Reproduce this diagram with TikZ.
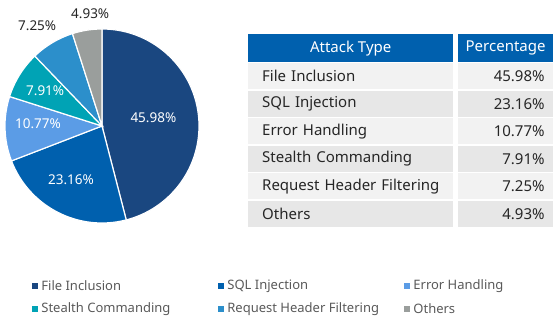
\documentclass[tikz,border=0pt]{standalone}
\usepackage{fontspec}
\setmainfont{Noto Sans}
\usetikzlibrary{positioning, calc}
\definecolor{fileinc}{HTML}{1A4780}
\definecolor{sqlinj}{HTML}{0060AE}
\definecolor{errhand}{HTML}{5B9CE6}
\definecolor{stealth}{HTML}{00A3B5}
\definecolor{reqhead}{HTML}{2C8FCB}
\definecolor{others}{HTML}{9A9E9C}
\definecolor{headblue}{HTML}{0060AE}
\definecolor{rowA}{HTML}{F2F2F2}
\definecolor{rowB}{HTML}{E7E7E7}
\definecolor{txtdark}{HTML}{262626}
\definecolor{txtgray}{HTML}{595959}

\begin{document}
\begin{tikzpicture}[
x=1pt, y=1pt,
slicelabel/.style={text=white, font=\fontsize{13.5}{16}\selectfont},
outlabel/.style={text=txtdark, font=\fontsize{13.5}{16}\selectfont},
headcell/.style={fill=headblue, text=white, minimum height=28pt, inner sep=0pt, font=\fontsize{15}{18}\selectfont},
namecell/.style={anchor=north west, minimum height=26pt, inner xsep=14pt, inner ysep=0pt, text width=177pt, align=left, text=txtdark, font=\fontsize{15}{18}\selectfont},
pctcell/.style={minimum height=26pt, inner xsep=9pt, inner ysep=0pt, text width=78pt, align=right, text=txtdark, font=\fontsize{15}{18}\selectfont},
legsq/.style={minimum size=6pt, inner sep=0pt},
legtext/.style={text=txtgray, inner sep=0pt, font=\fontsize{13}{15}\selectfont}
]
\useasboundingbox (0,0) rectangle (553,320);

% pie
\coordinate (c) at (102,194);
\foreach \ang/\sz/\col in {90/165.53/fileinc, -75.53/83.38/sqlinj, -158.91/38.77/errhand,
  -197.68/28.48/stealth, -226.16/26.10/reqhead, -252.26/17.74/others}
  \filldraw[fill=\col, draw=white, line width=1.2pt] (c) -- ++(\ang:97) arc[start angle=\ang, delta angle=-\sz, radius=97] -- cycle;

\node[slicelabel] (l1) at ($(c)+(8.8:52)$) {45.98\%};
\node[slicelabel] (l2) at ($(c)+(-120:62)$) {23.16\%};
\node[slicelabel] (l3) at ($(c)+(178:64)$) {10.77\%};
\node[slicelabel] (l4) at ($(c)+(148:67)$) {7.91\%};
\node[outlabel] (l5) at ($(c)+(123:119)$) {7.25\%};
\node[outlabel] (l6) at ($(c)+(96:113)$) {4.93\%};

% table
\node[headcell, anchor=north west, minimum width=205pt] (hname) at (248,286) {Attack Type};
\node[headcell, minimum width=96pt, right=4pt of hname] (hpct) {Percentage};
\foreach \nm/\pc/\fl [count=\i] in {File Inclusion/45.98/rowA, SQL Injection/23.16/rowB,
  Error Handling/10.77/rowA, Stealth Commanding/7.91/rowB,
  Request Header Filtering/7.25/rowA, Others/4.93/rowB} {
  \node[namecell, fill=\fl] (n\i) at (248,257-27.5*\i+27.5) {\mbox{\nm}};
  \node[pctcell, fill=\fl, right=4pt of n\i] (p\i) {\pc\%};
}

% legend
\foreach \nm/\col/\x/\y [count=\i] in {File Inclusion/fileinc/35/34, SQL Injection/sqlinj/221/34,
  Error Handling/errhand/407/34, Stealth Commanding/stealth/35/11,
  Request Header Filtering/reqhead/221/11, Others/others/407/11} {
  \node[legsq, fill=\col] (sq\i) at (\x,\y) {};
  \node[legtext, right=3pt of sq\i] (lg\i) {\nm};
}
\end{tikzpicture}
\end{document}
